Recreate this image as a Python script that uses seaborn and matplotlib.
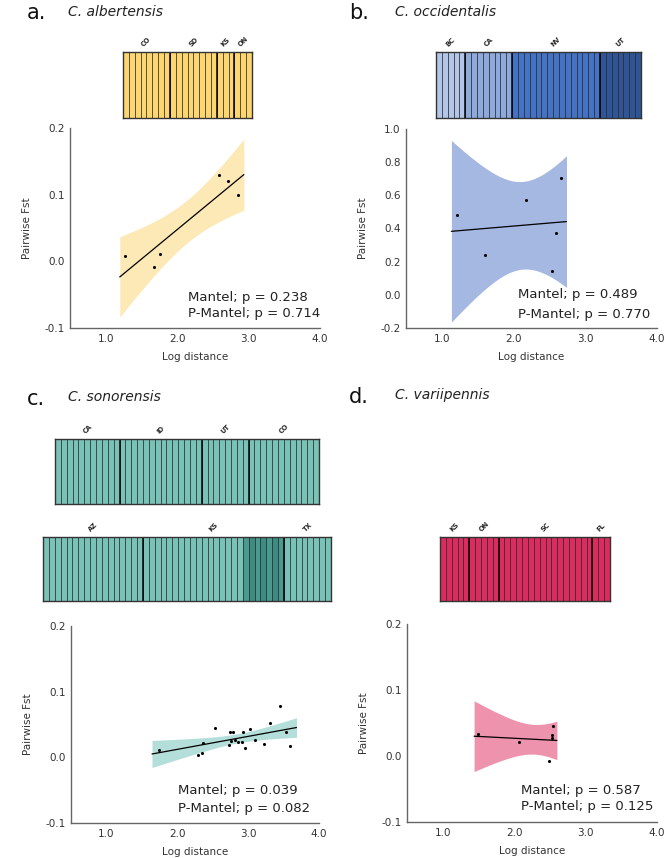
import matplotlib
matplotlib.use("Agg")
import matplotlib.pyplot as plt
import seaborn as sns
import numpy as np

sns.set_style("white")
plt.rcParams["font.family"] = ["DejaVu Sans"]
plt.rcParams["axes.unicode_minus"] = False

# ================= Data =================
# isolation-by-distance points (log distance, pairwise Fst)
ALB_X = [1.276, 1.678, 1.757, 2.589, 2.706, 2.855]
ALB_Y = [0.0085, -0.0085, 0.011, 0.130, 0.121, 0.0995]
OCC_X = [1.206, 1.598, 2.168, 2.530, 2.590, 2.665]
OCC_Y = [0.482, 0.239, 0.572, 0.145, 0.371, 0.707]
SON_X = [1.736, 2.292, 2.344, 2.363, 2.528, 2.726, 2.750, 2.780, 2.764, 2.821, 2.854,
         2.915, 2.934, 2.953, 3.033, 3.094, 3.226, 3.302, 3.443, 3.528, 3.590]
SON_Y = [0.0116, 0.003, 0.006, 0.022, 0.045, 0.0187, 0.039, 0.038, 0.025, 0.026, 0.023,
         0.023, 0.039, 0.0147, 0.0425, 0.026, 0.021, 0.0526, 0.0784, 0.039, 0.0167]
VAR_X = [1.492, 2.073, 2.494, 2.532, 2.536, 2.546]
VAR_Y = [0.0333, 0.0217, -0.0076, 0.0278, 0.0313, 0.0455]

MANTEL_P = ["0.238", "0.489", "0.039", "0.587"]
PMANTEL_P = ["0.714", "0.770", "0.082", "0.125"]

# STRUCTURE bars: sampling groups and number of individuals
ALB_GROUPS, ALB_COUNTS = ["CO", "SD", "KS", "ON"], [8, 8, 3, 3]
OCC_GROUPS, OCC_COUNTS = ["BC", "CA", "NV", "UT"], [5, 8, 15, 7]
SON1_GROUPS, SON1_COUNTS = ["CA", "ID", "UT", "CO"], [11, 14, 8, 12]
SON2_GROUPS, SON2_COUNTS = ["AZ", "KS", "TX"], [17, 24, 8]
VAR_GROUPS, VAR_COUNTS = ["KS", "ON", "SC", "FL"], [5, 5, 16, 3]
SON2_KS_DARK = 7  # last KS individuals assigned to the second cluster

YELLOW = "#FDD672"
BLUES = ["#B4C6E7", "#8EA9DB", "#4472C4", "#2F5597"]
TEAL, TEAL_DK, TEAL_MD = "#79C2B8", "#3D8C82", "#4A9A90"
PINK = "#DA2C5E"
BANDS = ["#FDE9B6", "#A4B8E2", "#B3DEDA", "#EE93AD"]

# two-sided 95% t quantiles by residual degrees of freedom
T95 = {4: 2.776, 19: 2.093}

W, H = 668, 858
fig = plt.figure(figsize=(W / 100, H / 100), dpi=100)


def rect(x0, y0, x1, y1):
    return [x0 / W, 1 - y1 / H, (x1 - x0) / W, (y1 - y0) / H]


def structure(r, groups, counts, col_colors):
    ax = fig.add_axes(r)
    n = sum(counts)
    ids = [f"s{i}" for i in range(n)]
    sns.barplot(x=ids, y=[1] * n, hue=ids, palette=col_colors, legend=False,
                width=1, saturation=1, edgecolor="#222222", linewidth=0.45, ax=ax)
    ax.set_xlim(-0.5, n - 0.5)
    ax.set_ylim(0, 1)
    ax.set_xticks([])
    ax.set_yticks([])
    ax.set_xlabel("")
    ax.set_ylabel("")
    for s in ax.spines.values():
        s.set_visible(True)
        s.set_color("#333333")
        s.set_linewidth(1)
    edges = np.cumsum([0] + counts)
    for b in edges[1:-1]:
        ax.axvline(b - 0.5, color="black", lw=1.1)
    for g, a, b in zip(groups, edges[:-1], edges[1:]):
        ax.text((a + b - 1) / 2, 1.06, g, rotation=45, ha="center", va="bottom",
                fontsize=4.8, fontweight="bold", transform=ax.get_xaxis_transform())
    return ax


def ibd(r, x, y, band, ylim, yticks, mp, pmp, tx, ty):
    ax = fig.add_axes(r)
    sns.regplot(x=x, y=y, ax=ax, truncate=False, ci=None, color="black",
                scatter_kws=dict(s=5, alpha=1, zorder=3, linewidths=0),
                line_kws=dict(lw=0.9, zorder=2))
    # analytic 95% confidence band around the OLS fit, on the regplot grid
    xa, ya = np.asarray(x), np.asarray(y)
    n = len(xa)
    slope, icpt = np.polyfit(xa, ya, 1)
    resid = ya - (icpt + slope * xa)
    s = np.sqrt(np.sum(resid ** 2) / (n - 2))
    sxx = np.sum((xa - xa.mean()) ** 2)
    grid = ax.lines[0].get_xdata()
    fit = icpt + slope * grid
    half = T95[n - 2] * s * np.sqrt(1 / n + (grid - xa.mean()) ** 2 / sxx)
    ax.fill_between(grid, fit - half, fit + half, color=band, lw=0, zorder=1)
    ax.set_xlim(0.5, 4.0)
    ax.set_ylim(*ylim)
    ax.set_xticks([1, 2, 3, 4])
    ax.set_xticklabels([f"{v:.1f}" for v in [1, 2, 3, 4]])
    ax.set_yticks(yticks)
    ax.set_yticklabels([f"{v:.1f}" for v in yticks])
    ax.tick_params(length=0, labelsize=7.5, colors="#333333", pad=4)
    sns.despine(ax=ax)
    for sp in ["left", "bottom"]:
        ax.spines[sp].set_color("#666666")
        ax.spines[sp].set_linewidth(1)
    ax.set_xlabel("Log distance", fontsize=7.5, color="#333333", labelpad=6)
    ax.set_ylabel("Pairwise Fst", fontsize=7.5, color="#333333", labelpad=9)
    ax.text(tx, ty[0], f"Mantel; p = {mp}", transform=ax.transAxes, fontsize=9.5,
            va="center", color="#222222")
    ax.text(tx, ty[1], f"P-Mantel; p = {pmp}", transform=ax.transAxes, fontsize=9.5,
            va="center", color="#222222")
    return ax


# ================= Panel a =================
structure(rect(123, 52, 252, 118), ALB_GROUPS, ALB_COUNTS, [YELLOW] * sum(ALB_COUNTS))
ibd(rect(70, 128, 320, 328), ALB_X, ALB_Y, BANDS[0], (-0.1, 0.2), [-0.1, 0.0, 0.1, 0.2],
    MANTEL_P[0], PMANTEL_P[0], 0.472, (0.155, 0.07))

# ================= Panel b =================
occ_cols = [c for c, k in zip(BLUES, OCC_COUNTS) for _ in range(k)]
structure(rect(436, 52, 641, 118), OCC_GROUPS, OCC_COUNTS, occ_cols)
ibd(rect(406, 129, 657, 328), OCC_X, OCC_Y, BANDS[1], (-0.2, 1.0),
    [-0.2, 0.0, 0.2, 0.4, 0.6, 0.8, 1.0], MANTEL_P[1], PMANTEL_P[1], 0.446, (0.166, 0.07))

# ================= Panel c =================
structure(rect(55, 439, 319, 504), SON1_GROUPS, SON1_COUNTS, [TEAL] * sum(SON1_COUNTS))
son2_cols = [TEAL] * sum(SON2_COUNTS)
ks_end = SON2_COUNTS[0] + SON2_COUNTS[1]
for i in range(ks_end - SON2_KS_DARK, ks_end):
    son2_cols[i] = TEAL_DK if i % 2 else TEAL_MD
structure(rect(43, 537, 331, 601), SON2_GROUPS, SON2_COUNTS, son2_cols)
ibd(rect(71, 626, 319, 823), SON_X, SON_Y, BANDS[2], (-0.1, 0.2), [-0.1, 0.0, 0.1, 0.2],
    MANTEL_P[2], PMANTEL_P[2], 0.431, (0.167, 0.076))

# ================= Panel d =================
structure(rect(440, 537, 610, 601), VAR_GROUPS, VAR_COUNTS, [PINK] * sum(VAR_COUNTS))
ibd(rect(407, 624, 657, 822), VAR_X, VAR_Y, BANDS[3], (-0.1, 0.2), [-0.1, 0.0, 0.1, 0.2],
    MANTEL_P[3], PMANTEL_P[3], 0.456, (0.16, 0.076))

# ================= Titles =================
for lab, name, x0, xt, yb, ytb in [("a.", "C. albertensis", 27, 68, 19, 16),
                                    ("b.", "C. occidentalis", 349, 395, 19, 16),
                                    ("c.", "C. sonorensis", 27, 68, 405, 401),
                                    ("d.", "C. variipennis", 349, 395, 403, 399)]:
    fig.text(x0 / W, 1 - yb / H, lab, fontsize=15, va="baseline", color="#111111")
    fig.text(xt / W, 1 - ytb / H, name, fontsize=10, style="italic", va="baseline",
             color="#222222")

fig.savefig("out.png", dpi=100)
